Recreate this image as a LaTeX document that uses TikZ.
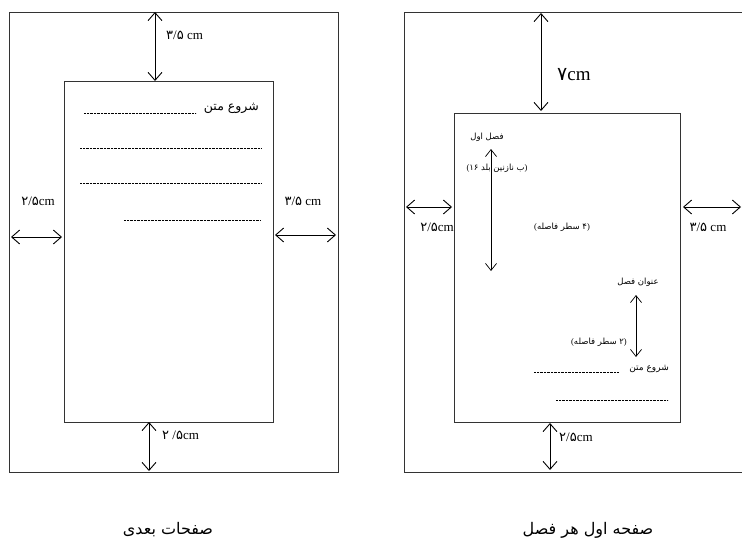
\documentclass[tikz,border=0pt]{standalone}
\usepackage{fontspec}
\setmainfont{Liberation Serif}
\newfontfamily\fa[Script=Arabic]{DejaVu Sans}
\TeXXeTstate=1
\usetikzlibrary{arrows.meta}
\begin{document}
\begin{tikzpicture}[x=1pt,y=-1pt,
  frame/.style={draw=black!80, line width=0.9pt, inner sep=0pt, anchor=north west},
  dimarrow/.style={line width=0.9pt, {Straight Barb[length=8pt,width=14pt]}-{Straight Barb[length=8pt,width=14pt]}},
  thinarrow/.style={line width=0.7pt, {Straight Barb[length=7pt,width=11pt]}-{Straight Barb[length=7pt,width=11pt]}},
  dotline/.style={line width=0.5pt, dash pattern=on 0.5pt off 0.9pt},
  cmlbl/.style={inner sep=0pt, font=\fontsize{13}{15}\selectfont},
  falbl/.style={inner sep=0pt, font=\fa\fontsize{8.5}{10}\selectfont},
  caption/.style={inner sep=0pt, font=\fa\fontsize{16}{19}\selectfont}]
\useasboundingbox (0,0) rectangle (742,543);

% ---------- left page ----------
\node[frame, minimum width=329pt, minimum height=460pt] (outL) at (9,12) {};
\node[frame, minimum width=209pt, minimum height=341pt] (inL) at (64,81) {};

\coordinate (lt1) at (155,12);  \coordinate (lt2) at (155,81);
\coordinate (ll1) at (11,237);  \coordinate (ll2) at (62,237);
\coordinate (lr1) at (275,235); \coordinate (lr2) at (336,235);
\coordinate (lb1) at (149,422); \coordinate (lb2) at (149,471);
\draw[dimarrow] (lt1) -- (lt2);
\draw[dimarrow] (ll1) -- (ll2);
\draw[dimarrow] (lr1) -- (lr2);
\draw[dimarrow] (lb1) -- (lb2);

\node[cmlbl, anchor=west] (ltl) at (166,35) {{\fa ۳}/{\fa ۵} cm};
\node[cmlbl] (lll) at (38,201) {{\fa ۲}/{\fa ۵}cm};
\node[cmlbl] (lrl) at (303,201) {{\fa ۳}/{\fa ۵} cm};
\node[cmlbl, anchor=west] (lbl) at (162,435) {{\fa ۲} /{\fa ۵}cm};

\node[falbl, font=\fa\fontsize{12.5}{14}\selectfont, anchor=east] (ls) at (259,108) {\beginR شروع متن\endR};
\coordinate (d1a) at (84,113);  \coordinate (d1b) at (196,113);
\coordinate (d2a) at (80,148);  \coordinate (d2b) at (261,148);
\coordinate (d3a) at (80,183);  \coordinate (d3b) at (261,183);
\coordinate (d4a) at (124,220); \coordinate (d4b) at (261,220);
\draw[dotline] (d1a) -- (d1b);
\draw[dotline] (d2a) -- (d2b);
\draw[dotline] (d3a) -- (d3b);
\draw[dotline] (d4a) -- (d4b);

\node[caption] (capL) at (168,530) {\beginR صفحات بعدی\endR};

% ---------- right page ----------
\coordinate (o1) at (742,12); \coordinate (o2) at (404,12);
\coordinate (o3) at (404,472); \coordinate (o4) at (742,472);
\draw[draw=black!80, line width=0.9pt] (o1) -- (o2) -- (o3) -- (o4);
\node[frame, minimum width=226pt, minimum height=309pt] (inR) at (454,113) {};

\coordinate (rt1) at (541,13);  \coordinate (rt2) at (541,111);
\coordinate (rl1) at (406,207); \coordinate (rl2) at (452,207);
\coordinate (rr1) at (683,207); \coordinate (rr2) at (741,207);
\coordinate (rb1) at (550,423); \coordinate (rb2) at (550,470);
\draw[dimarrow] (rt1) -- (rt2);
\draw[dimarrow] (rl1) -- (rl2);
\draw[dimarrow] (rr1) -- (rr2);
\draw[dimarrow] (rb1) -- (rb2);

\node[cmlbl, font=\fontsize{19}{22}\selectfont, anchor=west] (rtl) at (557,75) {{\fa ۷}cm};
\node[cmlbl] (rll) at (437,227) {{\fa ۲}/{\fa ۵}cm};
\node[cmlbl] (rrl) at (708,227) {{\fa ۳}/{\fa ۵} cm};
\node[cmlbl, anchor=west] (rbl) at (559,437) {{\fa ۲}/{\fa ۵}cm};

\node[falbl] (f1) at (487,137) {\beginR فصل اول\endR};
\node[falbl] (f2) at (497,168) {\beginR{\rmfamily)}ب نازنین بلد ۱۶{\rmfamily(}\endR};
\coordinate (a1) at (491,149); \coordinate (a2) at (491,271);
\draw[thinarrow] (a1) -- (a2);
\node[falbl] (f3) at (562,227) {\beginR{\rmfamily)}۴ سطر فاصله{\rmfamily(}\endR};

\node[falbl] (f4) at (638,282) {\beginR عنوان فصل\endR};
\coordinate (b1) at (636,295); \coordinate (b2) at (636,357);
\draw[thinarrow] (b1) -- (b2);
\node[falbl, anchor=east] (f5) at (627,342) {\beginR{\rmfamily)}۲ سطر فاصله{\rmfamily(}\endR};
\node[falbl, font=\fa\fontsize{9}{11}\selectfont, anchor=east] (f6) at (669,369) {\beginR شروع متن\endR};
\coordinate (e1a) at (534,372); \coordinate (e1b) at (619,372);
\coordinate (e2a) at (556,400); \coordinate (e2b) at (668,400);
\draw[dotline] (e1a) -- (e1b);
\draw[dotline] (e2a) -- (e2b);

\node[caption] (capR) at (588,530) {\beginR صفحه اول هر فصل\endR};
\end{tikzpicture}
\end{document}
